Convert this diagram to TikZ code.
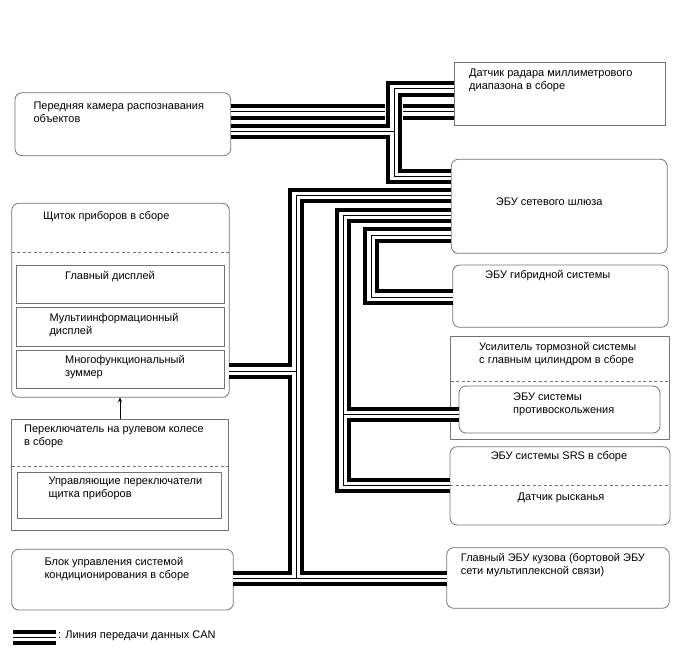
\documentclass[tikz,border=0pt]{standalone}
\usepackage{fontspec}
\setmainfont{Liberation Sans}
\usetikzlibrary{arrows.meta}
\begin{document}
\begin{tikzpicture}[x=1pt,y=-1pt,
  box/.style={draw=black!55, line width=0.8pt, inner sep=0pt, outer sep=0pt, anchor=north west},
  rbox/.style={box, rounded corners=7pt},
  txt/.style={font=\fontsize{11}{13}\selectfont, align=left, inner sep=0pt, anchor=north west},
  dline/.style={draw=black!55, line width=0.7pt, dash pattern=on 3pt off 2.5pt},
  busblack/.style={line width=15.5pt, black, line join=miter},
  buswhite/.style={line width=7.6pt, white, line join=miter},
  busthin/.style={line width=1pt, black, line join=miter},
  busmask/.style={line width=18.5pt, white}
]
\useasboundingbox (0,0) rectangle (688,658);

% ---- boxes
\node[rbox, minimum width=215.7pt, minimum height=63pt] (cam) at (15,92.7) {};
\node[box, minimum width=211.7pt, minimum height=62.3pt] (radar) at (454,62.7) {};
\node[rbox, minimum width=216pt, minimum height=94pt] (gw) at (451.3,159.3) {};
\node[rbox, minimum width=215.6pt, minimum height=62.3pt] (hyb) at (452.7,265) {};
\node[box, minimum width=218.6pt, minimum height=102.6pt] (brake) at (450.7,336.7) {};
\node[rbox, minimum width=201pt, minimum height=47pt] (asc) at (459,386) {};
\node[rbox, minimum width=220pt, minimum height=78.3pt] (srs) at (450,446.7) {};
\node[rbox, minimum width=222.6pt, minimum height=60.6pt] (body) at (446.7,547.7) {};
\node[rbox, minimum width=217.6pt, minimum height=194pt] (meter) at (11.7,203.3) {};
\node[box, minimum width=208pt, minimum height=38.3pt] (md) at (16,265) {};
\node[box, minimum width=208pt, minimum height=38.3pt] (mid) at (16,307.7) {};
\node[box, minimum width=208pt, minimum height=38.3pt] (buz) at (16,350) {};
\node[box, minimum width=216.6pt, minimum height=111pt] (sw) at (11.7,419) {};
\node[box, minimum width=204.4pt, minimum height=46pt] (swc) at (17.3,472.3) {};
\node[rbox, minimum width=221.6pt, minimum height=60.7pt] (ac) at (11.7,549.3) {};

% ---- dashed separators
\draw[dline] (meter.west |- 0,252.3) -- (meter.east |- 0,252.3);
\draw[dline] (sw.west |- 0,466.7) -- (sw.east |- 0,466.7);
\draw[dline] (brake.west |- 0,381) -- (brake.east |- 0,381);
\draw[dline] (srs.west |- 0,485) -- (srs.east |- 0,485);

% ---- texts
\node[txt] (camT) at (33.3,101.7) {Передняя камера распознавания\\объектов};
\node[txt] (radarT) at (469,69) {Датчик радара миллиметрового\\диапазона в сборе};
\node[txt] (gwT) at (495.7,198) {ЭБУ сетевого шлюза};
\node[txt] (hybT) at (485,270) {ЭБУ гибридной системы};
\node[txt] (brakeT) at (479,341.7) {Усилитель тормозной системы\\с главным цилиндром в сборе};
\node[txt] (ascT) at (513,393) {ЭБУ системы\\противоскольжения};
\node[txt, anchor=north] (srsT) at (559,451) {ЭБУ системы SRS в сборе};
\node[txt, anchor=north] (yawT) at (561,492.7) {Датчик рысканья};
\node[txt] (bodyT) at (460.7,552.7) {Главный ЭБУ кузова (бортовой ЭБУ\\сети мультиплексной связи)};
\node[txt] (meterT) at (43,211.7) {Щиток приборов в сборе};
\node[txt] (mdT) at (65,271) {Главный дисплей};
\node[txt] (midT) at (49.3,313.3) {Мультиинформационный\\дисплей};
\node[txt] (buzT) at (65,355) {Многофункциональный\\зуммер};
\node[txt] (swT) at (24,425) {Переключатель на рулевом колесе\\в сборе};
\node[txt] (swcT) at (48.3,476.7) {Управляющие переключатели\\щитка приборов};
\node[txt] (acT) at (44.3,556.7) {Блок управления системой\\кондиционирования в сборе};

% ---- arrow
\draw[line width=0.6pt, -{Stealth[length=5pt,width=4pt]}] (sw.north -| 120,0) -- (meter.south -| 120,0);

% ---- CAN buses
% camera - radar (crossing)
\foreach \s in {busblack,buswhite,busthin}
  \draw[\s] (cam.east |- 0,112) -- (radar.west |- 0,112);
\draw[busmask] (394,89) -- (394,176.5);
% radar - gateway with camera branch
\foreach \s in {busblack,buswhite,busthin}{
  \draw[\s] (radar.west |- 0,89) -- (394,89) -- (394,176.5) -- (gw.west |- 0,176.5);
  \draw[\s] (cam.east |- 0,131.7) -- (394,131.7);
}
% main trunk: gateway - meter - A/C - body
\foreach \s in {busblack,buswhite,busthin}{
  \draw[\s] (gw.west |- 0,195.5) -- (296,195.5) -- (296,578.5);
  \draw[\s] (meter.east |- 0,371) -- (296,371);
  \draw[\s] (ac.east |- 0,578.5) -- (body.west |- 0,578.5);
}
% gateway - antiskid - SRS
\foreach \s in {busblack,buswhite,busthin}{
  \draw[\s] (gw.west |- 0,215.5) -- (343,215.5) -- (343,485.5) -- (srs.west |- 0,485.5);
  \draw[\s] (343,414.5) -- (asc.west |- 0,414.5);
}
% gateway - hybrid
\foreach \s in {busblack,buswhite,busthin}
  \draw[\s] (gw.west |- 0,235) -- (371,235) -- (371,297) -- (hyb.west |- 0,297);

% ---- legend
\coordinate (lg1) at (13,637.5);
\coordinate (lg2) at (56,637.5);
\foreach \s in {busblack,buswhite,busthin}
  \draw[\s] (lg1) -- (lg2);
\node[txt, anchor=west] (lgT) at (58,636) {: Линия передачи данных CAN};
\end{tikzpicture}
\end{document}
